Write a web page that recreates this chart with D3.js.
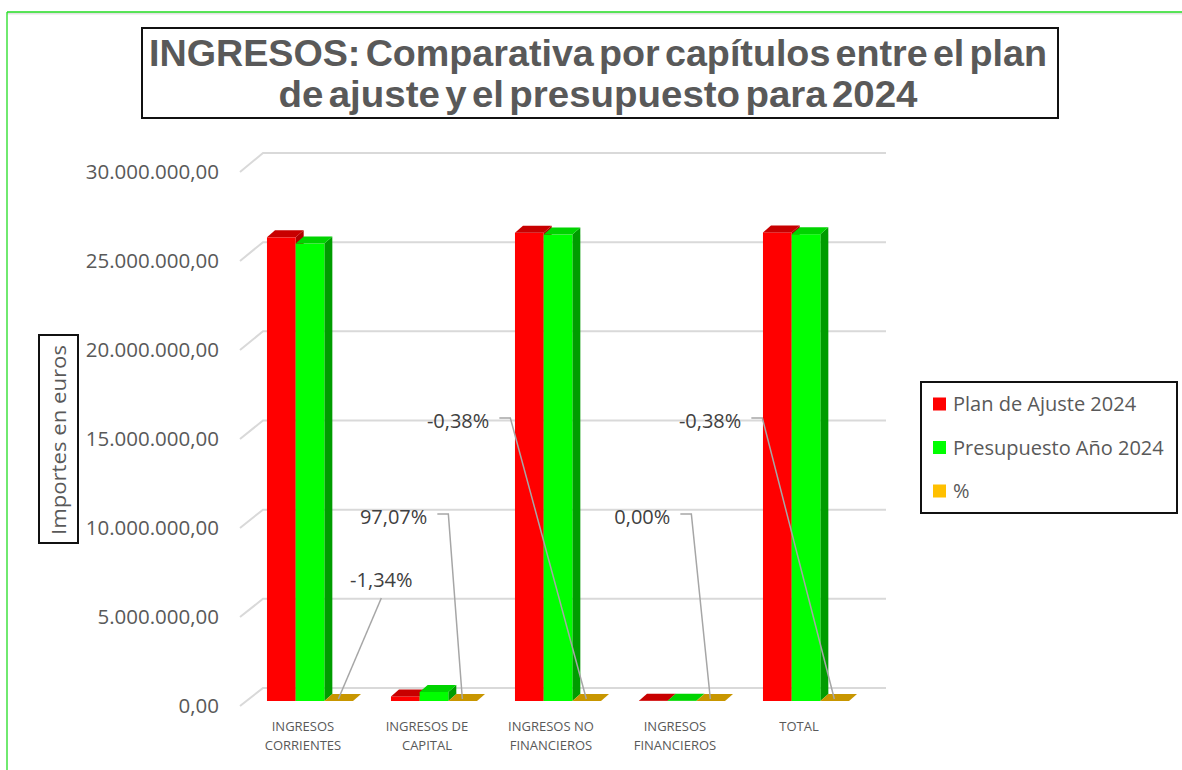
<!DOCTYPE html>
<html>
<head>
<meta charset="utf-8">
<script src="https://cdn.jsdelivr.net/npm/d3@7"></script>
<style>
  html, body { margin: 0; padding: 0; background: #fff; }
  svg { display: block; }
</style>
</head>
<body>
<div id="chart"></div>
<script>
// ── Data ──
const categories = [
  ["INGRESOS", "CORRIENTES"],
  ["INGRESOS DE", "CAPITAL"],
  ["INGRESOS NO", "FINANCIEROS"],
  ["INGRESOS", "FINANCIEROS"],
  ["TOTAL"]
];
const seriesNames = ["Plan de Ajuste 2024", "Presupuesto Año 2024", "%"];
const planAjuste  = [26000000, 256000, 26256000, 20000, 26276000];
const presupuesto = [25650000, 505000, 26155000, 20000, 26175000];
const porcentaje  = [-1.34, 97.07, -0.38, 0.00, -0.38];
const yTicks = [0, 5000000, 10000000, 15000000, 20000000, 25000000, 30000000];

(function () {
  "use strict";

  const W = 1182, H = 770;
  const fontBody = "'Open Sans', Lato, sans-serif";
  const textCol = "#595959";

  // ── Palette ──
  const palette = [
    { front: "#ff0000", top: "#c80000", side: "#b00000", key: "#ff0000" },
    { front: "#00ff00", top: "#00d400", side: "#009c00", key: "#00ff00" },
    { front: "#c89600", top: "#c89600", side: "#a67c00", key: "#ffc000" }
  ];

  const loc = d3.formatLocale({ decimal: ",", thousands: ".", grouping: [3], currency: ["", "€"], minus: "-" });
  const fmtAxis = loc.format(",.2f");
  const fmtPct = v => loc.format(".2f")(v) + "%";

  const svg = d3.select("#chart").append("svg")
    .attr("width", W).attr("height", H);

  // Outer green frame (only top / left visible)
  svg.append("line").attr("x1", 7).attr("x2", W).attr("y1", 13.5).attr("y2", 13.5)
    .attr("stroke", "#e3e3e3").attr("stroke-width", 2);
  svg.append("line").attr("x1", 7).attr("x2", W).attr("y1", 12).attr("y2", 12)
    .attr("stroke", "#22dd22").attr("stroke-width", 1.3);
  svg.append("line").attr("x1", 7).attr("x2", 7).attr("y1", 12).attr("y2", H)
    .attr("stroke", "#22dd22").attr("stroke-width", 1.3);

  // ── Title ──
  svg.append("rect").attr("x", 142).attr("y", 28).attr("width", 916).attr("height", 90)
    .attr("fill", "#fff").attr("stroke", "#111").attr("stroke-width", 2);
  const titleLines = [
    { t: "INGRESOS: Comparativa por capítulos entre el plan", y: 66, len: 898 },
    { t: "de ajuste y el presupuesto para 2024", y: 107, len: 639 }
  ];
  svg.selectAll("text.title").data(titleLines).enter().append("text")
    .attr("class", "title")
    .attr("x", 598).attr("y", d => d.y)
    .attr("text-anchor", "middle")
    .attr("font-family", "'Liberation Sans', Arial, sans-serif")
    .attr("font-weight", "bold").attr("font-size", 36)
    .attr("word-spacing", -5)
    .attr("textLength", d => d.len).attr("lengthAdjust", "spacingAndGlyphs")
    .attr("fill", textCol)
    .text(d => d.t);

  // ── Scales ──
  const yBack = d3.scaleLinear().domain([0, 30000000]).range([688, 153]);
  const yFront = d3.scaleLinear().domain([0, 30000000]).range([706, 172]);
  const barShift = 13;          // bars sit in front of the back wall
  const dX = 8, dY = -7;        // bar depth

  const x = d3.scaleBand().domain(d3.range(categories.length))
    .range([248, 868]).paddingInner(0.306).paddingOuter(0.153);
  const xSub = d3.scaleBand().domain(d3.range(3)).range([0, x.bandwidth()]);

  // ── Back wall gridlines ──
  const grid = svg.append("g");
  grid.selectAll("path").data(yTicks).enter().append("path")
    .attr("d", d => `M240,${yFront(d)} L263,${yBack(d)} L886,${yBack(d)}`)
    .attr("fill", "none").attr("stroke", "#d9d9d9").attr("stroke-width", 2);

  grid.selectAll("text").data(yTicks).enter().append("text")
    .attr("x", 219).attr("y", d => yFront(d)).attr("dy", "0.36em")
    .attr("text-anchor", "end")
    .attr("font-family", fontBody).attr("font-size", 20.5)
    .attr("fill", textCol)
    .text(d => fmtAxis(d));

  // ── Y axis title ──
  svg.append("rect").attr("x", 39).attr("y", 335).attr("width", 39).attr("height", 208)
    .attr("fill", "#fff").attr("stroke", "#111").attr("stroke-width", 2);
  svg.append("text")
    .attr("transform", "translate(66,440) rotate(-90)")
    .attr("text-anchor", "middle")
    .attr("font-family", fontBody).attr("font-size", 20)
    .attr("textLength", 190).attr("lengthAdjust", "spacingAndGlyphs")
    .attr("fill", textCol)
    .text("Importes en euros");

  // ── Bars ──
  const values = [planAjuste, presupuesto, porcentaje.map(() => 0)];
  const bars = [];
  categories.forEach((c, i) => {
    values.forEach((arr, s) => {
      bars.push({ cat: i, s, v: arr[i] });
    });
  });

  const barG = svg.append("g");
  const bg = barG.selectAll("g.bar").data(bars).enter().append("g").attr("class", "bar");

  function geom(d) {
    const x0 = x(d.cat) + xSub(d.s);
    const w = xSub.bandwidth();
    const yb = yBack(0) + barShift;
    const yt = Math.min(yb, yBack(d.v) + barShift);
    return { x0, w, yb, yt };
  }

  // side face
  bg.append("path")
    .attr("d", d => {
      const g = geom(d);
      const xr = g.x0 + g.w;
      return `M${xr},${g.yt} L${xr + dX},${g.yt + dY} L${xr + dX},${g.yb + dY} L${xr},${g.yb}Z`;
    })
    .attr("fill", d => palette[d.s].side);
  // front face
  bg.append("rect")
    .attr("x", d => geom(d).x0)
    .attr("y", d => geom(d).yt)
    .attr("width", d => geom(d).w)
    .attr("height", d => geom(d).yb - geom(d).yt)
    .attr("fill", d => palette[d.s].front);
  // top face
  bg.append("path")
    .attr("d", d => {
      const g = geom(d);
      return `M${g.x0},${g.yt} L${g.x0 + g.w},${g.yt} L${g.x0 + g.w + dX},${g.yt + dY} L${g.x0 + dX},${g.yt + dY}Z`;
    })
    .attr("fill", d => palette[d.s].top);

  // ── Percent data labels with leader lines ──
  // label offsets relative to the % bar anchor (layout only)
  const labelLayout = [
    { dx: 43, dy: -119, anchor: "middle", elbow: false },
    { dx: -35, dy: -182, anchor: "end", elbow: true },
    { dx: -97, dy: -278, anchor: "end", elbow: true },
    { dx: -40, dy: -182, anchor: "end", elbow: true },
    { dx: -93, dy: -278, anchor: "end", elbow: true }
  ];
  const lab = svg.append("g");
  porcentaje.forEach((p, i) => {
    const ax = x(i) + xSub(2) + 14;
    const ay = yBack(0) + barShift - 2;
    const L = labelLayout[i];
    const lx = ax + L.dx, ly = ay + L.dy;
    let path;
    if (L.elbow) {
      path = `M${lx + 10},${ly - 3} L${lx + 21},${ly - 3} L${ax},${ay}`;
    } else {
      path = `M${lx},${ly + 18} L${ax},${ay}`;
    }
    lab.append("path").attr("d", path)
      .attr("fill", "none").attr("stroke", "#a6a6a6").attr("stroke-width", 1.5);
    lab.append("text")
      .attr("x", lx).attr("y", ly).attr("dy", "0.36em")
      .attr("text-anchor", L.anchor)
      .attr("font-family", fontBody).attr("font-size", 20)
      .attr("fill", "#404040")
      .text(fmtPct(p));
  });

  // ── Category labels ──
  const xl = svg.append("g");
  categories.forEach((lines, i) => {
    const cx = x(i) + 36;
    const t = xl.append("text")
      .attr("text-anchor", "middle")
      .attr("font-family", fontBody).attr("font-size", 13)
      .attr("fill", textCol);
    lines.forEach((ln, k) => {
      t.append("tspan").attr("x", cx).attr("y", 731 + k * 19).text(ln);
    });
  });

  // ── Legend ──
  svg.append("rect").attr("x", 921).attr("y", 382).attr("width", 256).attr("height", 131)
    .attr("fill", "#fff").attr("stroke", "#111").attr("stroke-width", 2);
  const lg = svg.append("g").selectAll("g").data(seriesNames).enter().append("g")
    .attr("transform", (d, i) => `translate(933,${404 + i * 43.5})`);
  lg.append("rect").attr("x", 0).attr("y", -6.5).attr("width", 13).attr("height", 13)
    .attr("fill", (d, i) => palette[i].key);
  lg.append("text").attr("x", 20).attr("dy", "0.36em")
    .attr("font-family", fontBody).attr("font-size", 20)
    .attr("fill", textCol)
    .text(d => d);
})();
</script>
</body>
</html>
